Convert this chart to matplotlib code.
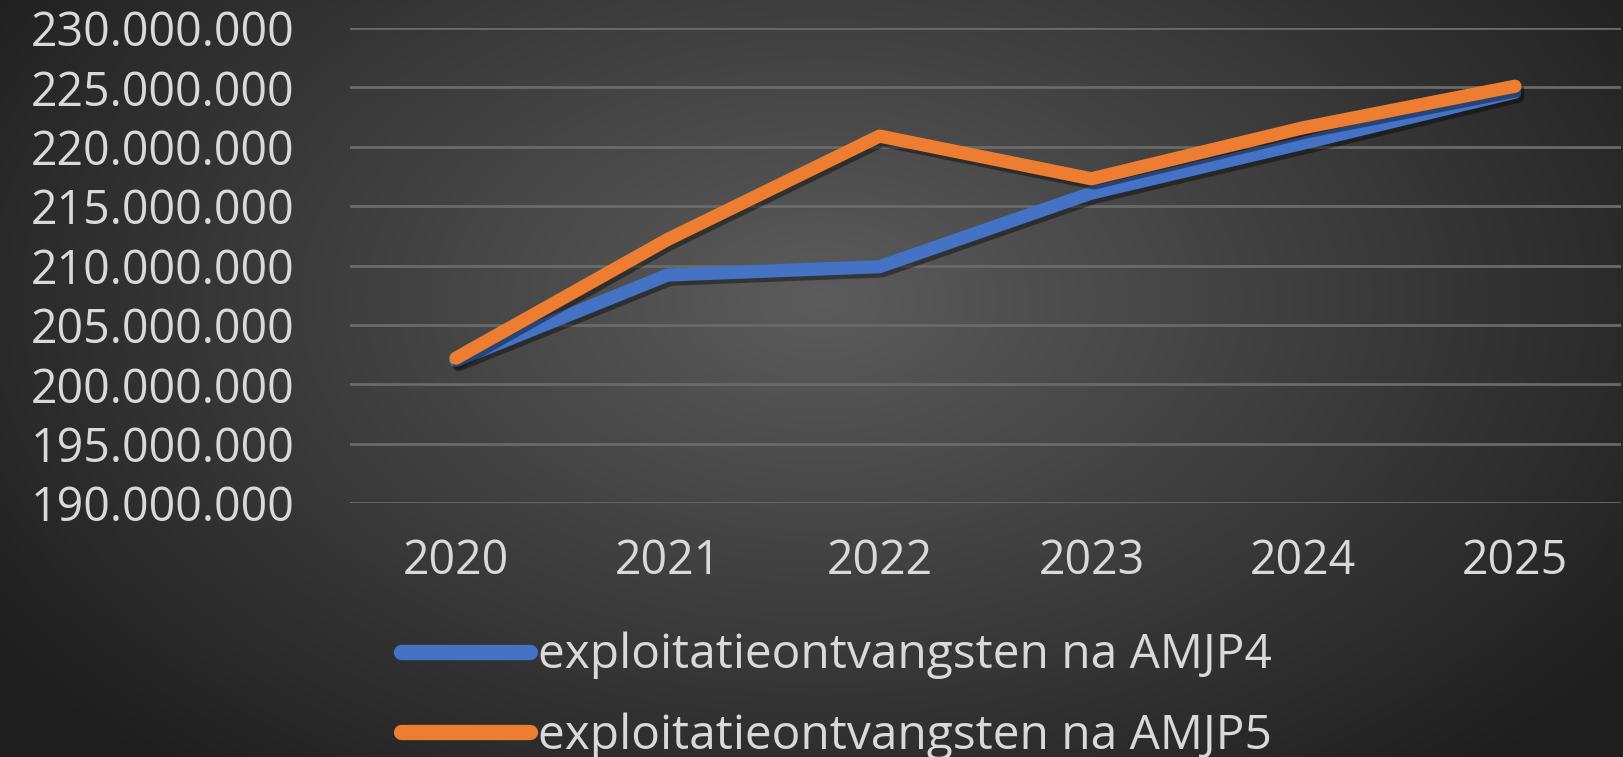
import numpy as np
import matplotlib
matplotlib.use("Agg")
import matplotlib.pyplot as plt
import matplotlib.ticker as mticker
import matplotlib.patheffects as pe

# --- Data ---
years = ["2020", "2021", "2022", "2023", "2024", "2025"]
amjp4 = [202.0e6, 209.2e6, 209.9e6, 216.1e6, 220.3e6, 224.6e6]
amjp5 = [202.2e6, 212.2e6, 220.9e6, 217.3e6, 221.6e6, 225.1e6]
labels = ["exploitatieontvangsten na AMJP4", "exploitatieontvangsten na AMJP5"]

BLUE = "#4472C4"
ORANGE = "#ED7D31"
TEXT = "#D9D9D9"
FONT = "Open Sans"

fig = plt.figure(figsize=(16.23, 7.57), dpi=100)

# --- radial dark background ---
bg = fig.add_axes([0, 0, 1, 1], zorder=-10)
h, w = 757, 1623
yy, xx = np.mgrid[0:h, 0:w]
r = np.sqrt(((xx - 820) / 1000.0) ** 2 + ((yy - 300) / 620.0) ** 2)
r = np.clip(r, 0, 1)
shade = 0.36 - (0.36 - 0.12) * r
bg.imshow(np.dstack([shade] * 3), aspect="auto", extent=[0, 1, 0, 1])
bg.set_axis_off()

ax = fig.add_axes([0.2157, 0.3355, 0.7830, 0.6275])
ax.set_facecolor("none")

x = np.arange(len(years))
shadow = [pe.SimpleLineShadow(offset=(2, -3), shadow_color="black", alpha=0.4), pe.Normal()]
ax.plot(x, amjp4, color=BLUE, linewidth=9.5, solid_capstyle="round",
        label=labels[0], path_effects=shadow, zorder=3)
ax.plot(x, amjp5, color=ORANGE, linewidth=9.5, solid_capstyle="round",
        label=labels[1], path_effects=shadow, zorder=4)

ax.set_xlim(-0.5, len(years) - 0.5)
ax.set_ylim(190e6, 230e6)
ax.set_yticks(np.arange(190e6, 230e6 + 1, 5e6))
ax.yaxis.set_major_formatter(
    mticker.FuncFormatter(lambda v, p: f"{int(round(v)):,}".replace(",", ".")))
ax.set_xticks(x)
ax.set_xticklabels(years)

ax.grid(axis="y", color="#6A6A6A", linewidth=2)
ax.set_axisbelow(True)
for s in ax.spines.values():
    s.set_visible(False)
ax.tick_params(length=0, colors=TEXT, labelsize=33.5)
ax.tick_params(axis="y", pad=40)
ax.tick_params(axis="x", pad=25)
for t in ax.get_xticklabels() + ax.get_yticklabels():
    t.set_fontfamily(FONT)

leg = fig.legend(loc="upper left", bbox_to_anchor=(377 / 1623, 1 - 608 / 757),
                 frameon=False, borderpad=0, handlelength=2.7, handletextpad=0.17,
                 labelspacing=0.68, prop={"family": FONT, "size": 34.5})
for t in leg.get_texts():
    t.set_color(TEXT)
for l in leg.get_lines():
    l.set_linewidth(11)
    l.set_solid_capstyle("round")
    l.set_path_effects([])

fig.savefig("out.png", dpi=100)
